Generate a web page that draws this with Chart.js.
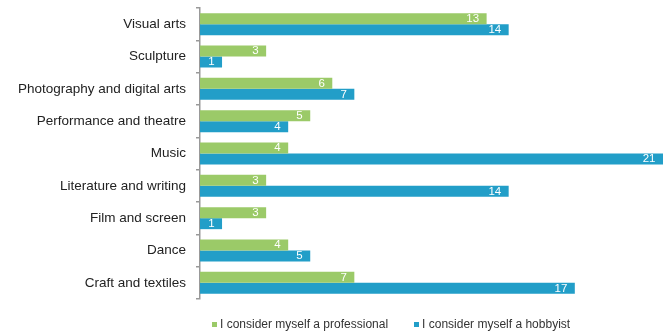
<!DOCTYPE html>
<html>
<head>
<meta charset="utf-8">
<script src="https://cdn.jsdelivr.net/npm/chart.js@4/dist/chart.umd.min.js"></script>
<style>
  html, body { margin: 0; padding: 0; background: #fff; }
  #wrap { position: relative; width: 664px; height: 335px; }
  #legend {
    position: absolute; top: 317px; left: 212px;
    font: 12px "Liberation Sans", Arial, sans-serif; color: #333;
    white-space: nowrap;
  }
  #legend span.item { margin-right: 26px; }
  #legend i { display: inline-block; width: 5px; height: 5px; margin-right: 3px; vertical-align: 1px; }
</style>
</head>
<body>
<div id="wrap">
  <canvas id="chart" width="664" height="335"></canvas>
  <div id="legend"></div>
</div>
<script>
// Data
const categories = ["Visual arts", "Sculpture", "Photography and digital arts", "Performance and theatre",
    "Music", "Literature and writing", "Film and screen", "Dance", "Craft and textiles"];
const seriesNames = ["I consider myself a professional", "I consider myself a hobbyist"];
const professional = [13, 3, 6, 5, 4, 3, 3, 4, 7];
const hobbyist = [14, 1, 7, 4, 21, 14, 1, 5, 17];

const colors = ["#9bca68", "#229ec8"];

// white value labels at the end of each bar
const valueLabels = {
    id: "valueLabels",
    afterDatasetsDraw(chart) {
        const ctx = chart.ctx;
        ctx.save();
        ctx.font = "11.5px 'Liberation Sans', Arial, sans-serif";
        ctx.fillStyle = "#fff";
        ctx.textAlign = "right";
        ctx.textBaseline = "middle";
        chart.data.datasets.forEach((ds, i) => {
            chart.getDatasetMeta(i).data.forEach((bar, j) => {
                ctx.fillText(ds.data[j], bar.x - 7.5, bar.y);
            });
        });
        ctx.restore();
    }
};

new Chart(document.getElementById("chart"), {
    type: "bar",
    data: {
        labels: categories,
        datasets: [
            { label: seriesNames[0], data: professional, backgroundColor: colors[0] },
            { label: seriesNames[1], data: hobbyist, backgroundColor: colors[1] }
        ]
    },
    options: {
        indexAxis: "y",
        responsive: false,
        animation: false,
        layout: { padding: { top: 8, bottom: 36, left: 0, right: 1 } },
        datasets: { bar: { categoryPercentage: 0.68, barPercentage: 1 } },
        scales: {
            x: { display: false, min: 0, max: 21 },
            y: {
                afterFit: (scale) => {
                    scale.width = 200;
                    scale.paddingTop = 0;
                    scale.paddingBottom = 0;
                },
                border: { display: true, color: "#999", width: 1.5 },
                grid: { drawOnChartArea: false, drawTicks: true, tickLength: 4, color: "#999", lineWidth: 1.5 },
                ticks: {
                    padding: 10,
                    color: "#222",
                    font: { family: "'Liberation Sans', Arial, sans-serif", size: 13.5 }
                }
            }
        },
        plugins: {
            legend: { display: false },
            tooltip: { enabled: false }
        }
    },
    plugins: [valueLabels]
});

// legend as plain text under the chart
document.getElementById("legend").innerHTML = seriesNames
    .map((n, i) => `<span class="item"><i style="background:${colors[i]}"></i>${n}</span>`)
    .join("");
</script>
</body>
</html>
